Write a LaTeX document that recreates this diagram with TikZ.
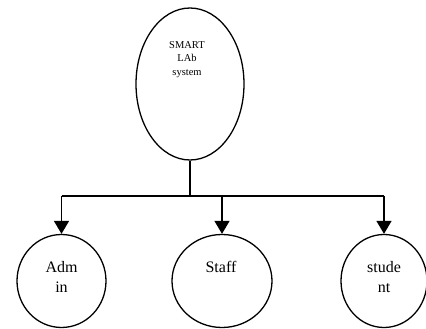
\documentclass[tikz,border=0pt]{standalone}
\usepackage{fontspec}
\setmainfont{Liberation Serif}
\usepackage{tikz}
\usetikzlibrary{arrows.meta,shapes.geometric}

\begin{document}
\begin{tikzpicture}[x=1pt,y=1pt,
		bubble/.style={draw,ellipse,line width=1.3pt,inner sep=0pt},
		link/.style={line width=1.6pt},
		feed/.style={link,-{Triangle[length=13pt,width=15pt]}},
		toptext/.style={inner sep=0pt,anchor=north,align=center,font=\fontsize{10.5}{13.5}\selectfont},
		leaftext/.style={inner sep=0pt,anchor=north,align=center,font=\fontsize{16}{20}\selectfont}]
		\useasboundingbox (0,0) rectangle (426,329);
		% system and its users
		\node[bubble,minimum width=108pt,minimum height=152pt] (sys) at (190,245) {};
		\node[bubble,minimum width=89pt,minimum height=93pt] (admin) at (61.5,48) {};
		\node[bubble,minimum width=100pt,minimum height=93pt] (staff) at (222,48) {};
		\node[bubble,minimum width=86pt,minimum height=93pt] (student) at (384,48) {};
		\node[toptext] (systxt) at (187,288) {SMART\\LAb\\system};
		\node[leaftext] (admintxt) at (61.5,68) {Adm\\in};
		\node[leaftext] (stafftxt) at (221,68) {Staff};
		\node[leaftext] (studenttxt) at (384,68) {stude\\nt};
		% tree
		\coordinate (bus) at (190,133);
		\draw[link] (sys.south) -- (bus);
		\draw[link] (bus -| admin.north) -- (bus -| student.north);
		\draw[feed] (bus -| admin.north) -- (admin.north);
		\draw[feed] (bus -| staff.north) -- (staff.north);
		\draw[feed] (bus -| student.north) -- (student.north);
\end{tikzpicture}
\end{document}
